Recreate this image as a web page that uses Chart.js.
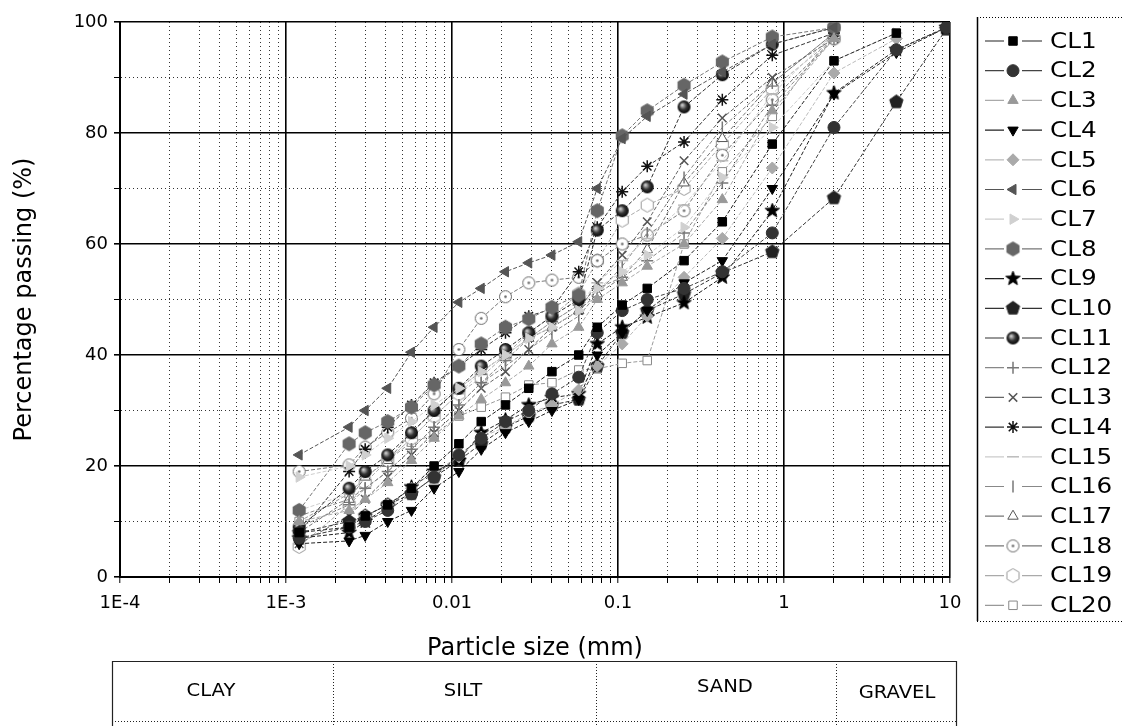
<!DOCTYPE html>
<html>
<head>
<meta charset="utf-8">
<script src="https://cdn.jsdelivr.net/npm/chart.js@4"></script>
<style>
  html, body { margin: 0; padding: 0; background: #fff; }
  #wrap { width: 1123px; height: 726px; position: relative; }
</style>
</head>
<body>
<div id="wrap"><canvas id="psd" width="1123" height="726"></canvas></div>
<script>
// ---------------------------------------------------------------
// data (percentage passing vs size)
// ---------------------------------------------------------------
var hydroSizes = [0.0012, 0.0024, 0.003, 0.0041, 0.0057, 0.0078, 0.011, 0.015, 0.021, 0.029, 0.04, 0.058];
var sieveSizes = [0.075, 0.106, 0.15, 0.25, 0.425, 0.85, 2, 4.75, 9.5];

var seriesNames = ['CL1','CL2','CL3','CL4','CL5','CL6','CL7','CL8','CL9','CL10',
                   'CL11','CL12','CL13','CL14','CL15','CL16','CL17','CL18','CL19','CL20'];

var cl1  = [8, 9, 11, 13, 16, 20, 24, 28, 31, 34, 37, 40, 45, 49, 52, 57, 64, 78, 93, 98, null];
var cl2  = [7, 9, 10, 12, 15, 18, 22, 25, 28, 30, 33, 36, 44, 48, 50, 52, 55, 62, 81, 95, 99];
var cl3  = [10, 12, 14, 17, 21, 25, 29, 32, 35, 38, 42, 45, 50, 53, 56, 60, 68, 84, 97, null, null];
var cl4  = [6, 6.5, 7.5, 10, 12, 16, 19, 23, 26, 28, 30, 32, 40, 44, 48, 53, 57, 70, 87, 94.5, 99];
var cl5  = [7, 9, 11, 13, 16, 19, 21.6, 25.2, 27, 29.5, 31, 33.7, 38, 42, 47, 54, 61, 73.7, 90.8, 97, null];
var cl6  = [22, 27, 30, 34, 40.5, 45, 49.5, 52, 55, 56.6, 58, 60.4, 70, 79, 83, 87, 91, 96, 99, null, null];
var cl7  = [18, 20, 22, 25, 28, 31, 34, 37, 40, 43, 45, 48, 52, 55, 58, 63, 72, 81, 93, 98, null];
var cl8  = [12, 24, 26, 28, 30.6, 34.6, 38, 42, 45, 46.5, 48.6, 50.8, 66, 79.5, 84, 88.6, 92.8, 97.3, 99, null, null];
var cl9  = [7, 8, 10, 12.6, 16.2, 19, 21, 26, 28.3, 31, 32.3, 33, 42, 45, 46.8, 49.4, 54, 66, 87.2, 95, 99];
var cl10 = [8, 10, 11, 13, 15, 18, 21, 24, 27, 29, 31, 32, 38, 44, 48, 51, 54.8, 58.6, 68.3, 85.6, 98.7];
var cl11 = [9, 16, 19, 22, 26, 30, 34, 38, 41, 44, 47, 50, 62.5, 66, 70.3, 84.7, 90.5, 96, 99, null, null];
var cl12 = [9, 13, 16, 19, 23, 27, 31, 35, 39, 43, 46, 49, 52, 54, 57, 62, 71, 85, 97, null, null];
var cl13 = [6, 11, 14, 18, 22, 26, 30, 34, 37, 41, 45, 48, 53, 58, 64, 75, 82.7, 90, 97, null, null];
var cl14 = [8, 19, 23, 27, 31, 35, 38, 41, 44, 47, 48.3, 55, 63, 69.4, 74, 78.4, 86, 94, 98, null, null];
var cl15 = [12, 15, 18, 21, 25, 29, 33, 37, 40, 43, 46, 49, 53, 57, 61, 67, 75, 87, 98, null, null];
var cl16 = [11, 14, 16, 19, 23, 27, 31, 35, 38, 41, 44, 47, 51, 56, 62, 72, 81, 89, 98, null, null];
var cl17 = [8, 14, 18, 21, 26, 30, 34, 37, 40, 43, 45, 48, 51, 54, 59, 71, 79, 89, 98, null, null];
var cl18 = [19, 20.2, 23.4, 26, 28.6, 33, 41, 46.6, 50.5, 53, 53.5, 54, 57, 60, 61.6, 66, 76, 86, 97, null, null];
var cl19 = [5.5, 13, 17, 21, 25, 29, 33, 36, 40, 44, 47, 51, 57, 64.3, 67, 70, 78, 88, 97, null, null];
var cl20 = [10, 15, 18, 21, 24.3, 25.6, 29, 30.6, 32.4, 34.6, 35, 37.3, 37.5, 38.5, 39, 60, 73, 83, 98.5, null, null];

var seriesValues = [cl1, cl2, cl3, cl4, cl5, cl6, cl7, cl8, cl9, cl10,
                    cl11, cl12, cl13, cl14, cl15, cl16, cl17, cl18, cl19, cl20];

var xTickValues = [1e-4, 1e-3, 0.01, 0.1, 1, 10];
var xTickLabels = ['1E-4', '1E-3', '0.01', '0.1', '1', '10'];
var yTickLabels = [0, 20, 40, 60, 80, 100];
var zoneNames = ['CLAY', 'SILT', 'SAND', 'GRAVEL'];

// ---------------------------------------------------------------
// marker styles (grey scale, like the original figure)
// ---------------------------------------------------------------
function makeMarker(kind, fill, stroke) {
    var s = 17, c = document.createElement('canvas');
    c.width = s; c.height = s;
    var g = c.getContext('2d');
    var cx = s / 2, cy = s / 2, r = 7, i, a, rr;
    g.fillStyle = fill;
    g.strokeStyle = stroke;
    g.lineWidth = 1;
    g.beginPath();
    if (kind === 'hex' || kind === 'pent') {
        var n = kind === 'hex' ? 6 : 5;
        for (i = 0; i < n; i++) {
            a = -Math.PI / 2 + i * 2 * Math.PI / n;
            g.lineTo(cx + r * Math.cos(a), cy + r * Math.sin(a));
        }
        g.closePath(); g.fill(); g.stroke();
    } else if (kind === 'star5') {
        for (i = 0; i < 10; i++) {
            rr = i % 2 ? r * 0.45 : r + 0.5;
            a = -Math.PI / 2 + i * Math.PI / 5;
            g.lineTo(cx + rr * Math.cos(a), cy + rr * Math.sin(a));
        }
        g.closePath(); g.fill(); g.stroke();
    } else if (kind === 'sphere') {
        var grad = g.createRadialGradient(cx - 2, cy - 2, 0.5, cx, cy, r);
        grad.addColorStop(0, '#d0d0d0');
        grad.addColorStop(0.5, '#333');
        grad.addColorStop(1, '#000');
        g.fillStyle = grad;
        g.arc(cx, cy, r - 0.5, 0, Math.PI * 2);
        g.fill();
    } else if (kind === 'ring') {
        g.arc(cx, cy, r - 1, 0, Math.PI * 2);
        g.fill(); g.stroke();
        g.beginPath();
        g.fillStyle = stroke;
        g.arc(cx, cy, 1.3, 0, Math.PI * 2);
        g.fill();
    }
    return c;
}

var markerStyles = [
    { style: 'rect',      rot: 0,   fill: '#000',  stroke: '#000',  line: '#222' },
    { style: 'circle',    rot: 0,   fill: '#333',  stroke: '#333',  line: '#444' },
    { style: 'triangle',  rot: 0,   fill: '#999',  stroke: '#999',  line: '#aaa' },
    { style: 'triangle',  rot: 180, fill: '#000',  stroke: '#000',  line: '#222' },
    { style: 'rectRot',   rot: 0,   fill: '#aaa',  stroke: '#aaa',  line: '#bbb' },
    { style: 'triangle',  rot: 270, fill: '#555',  stroke: '#555',  line: '#555' },
    { style: 'triangle',  rot: 90,  fill: '#d0d0d0', stroke: '#d0d0d0', line: '#ccc' },
    { style: makeMarker('hex', '#666', '#666'),   rot: 0, fill: '#666', stroke: '#666', line: '#777' },
    { style: makeMarker('star5', '#000', '#000'), rot: 0, fill: '#000', stroke: '#000', line: '#222' },
    { style: makeMarker('pent', '#222', '#222'),  rot: 0, fill: '#222', stroke: '#222', line: '#333' },
    { style: makeMarker('sphere', '#000', '#000'), rot: 0, fill: '#000', stroke: '#000', line: '#333' },
    { style: 'cross',     rot: 0,   fill: '#777',  stroke: '#777',  line: '#888' },
    { style: 'crossRot',  rot: 0,   fill: '#555',  stroke: '#555',  line: '#666' },
    { style: 'star',      rot: 0,   fill: '#111',  stroke: '#111',  line: '#333' },
    { style: 'line',      rot: 0,   fill: '#bbb',  stroke: '#bbb',  line: '#ccc' },
    { style: 'line',      rot: 90,  fill: '#777',  stroke: '#777',  line: '#888' },
    { style: 'triangle',  rot: 0,   fill: '#fff',  stroke: '#555',  line: '#777' },
    { style: makeMarker('ring', '#fff', '#666'),  rot: 0, fill: '#fff', stroke: '#666', line: '#777' },
    { style: makeMarker('hex', '#fff', '#999'),   rot: 0, fill: '#fff', stroke: '#999', line: '#aaa' },
    { style: 'rect',      rot: 0,   fill: '#fff',  stroke: '#888',  line: '#999' }
];

var allSizes = hydroSizes.concat(sieveSizes);

var datasets = seriesNames.map(function (name, i) {
    var pts = [];
    seriesValues[i].forEach(function (v, k) {
        if (v !== null) pts.push({ x: allSizes[k], y: v });
    });
    var m = markerStyles[i];
    return {
        label: name,
        data: pts,
        showLine: true,
        fill: false,
        tension: 0,
        borderColor: m.line,
        borderWidth: 1,
        borderDash: [4, 2],
        pointStyle: m.style,
        pointRotation: m.rot,
        pointRadius: 6,
        pointBackgroundColor: m.fill,
        pointBorderColor: m.stroke,
        pointBorderWidth: (typeof m.style === 'string' && /cross|star|line/.test(m.style)) ? 1.5 : 1
    };
});

// ---------------------------------------------------------------
// helpers
// ---------------------------------------------------------------
function isDecade(v) {
    var l = Math.log10(v);
    return Math.abs(l - Math.round(l)) < 1e-6;
}

var textFamily = '"DejaVu Sans", "Liberation Sans", Arial, sans-serif';

// text a little stretched sideways, like the scanned figure
function wideText(ctx, txt, x, y, size, stretch) {
    ctx.save();
    ctx.translate(x, y);
    ctx.scale(stretch, 1);
    ctx.font = size + 'px ' + textFamily;
    ctx.fillText(txt, 0, 0);
    ctx.restore();
}

// legend box on the right with line-marker-line samples
var legendBox = {
    id: 'legendBox',
    afterDraw: function (chart) {
        var ctx = chart.ctx;
        ctx.save();
        ctx.strokeStyle = '#000';
        ctx.lineWidth = 1.5;
        ctx.beginPath();
        ctx.moveTo(977.5, 17); ctx.lineTo(977.5, 621);
        ctx.stroke();
        ctx.setLineDash([1, 2]);
        ctx.lineWidth = 1;
        ctx.beginPath();
        ctx.moveTo(977, 17.5); ctx.lineTo(1123, 17.5);
        ctx.moveTo(977, 621.5); ctx.lineTo(1123, 621.5);
        ctx.stroke();
        ctx.setLineDash([]);

        chart.data.datasets.forEach(function (ds, i) {
            var y = 41 + i * 29.7;
            var m = markerStyles[i];
            ctx.strokeStyle = m.line;
            ctx.lineWidth = 1.2;
            ctx.beginPath();
            ctx.moveTo(985, y); ctx.lineTo(1004, y);
            ctx.moveTo(1022, y); ctx.lineTo(1042, y);
            ctx.stroke();
            ctx.fillStyle = m.fill;
            ctx.strokeStyle = m.stroke;
            ctx.lineWidth = ds.pointBorderWidth;
            if (Chart.helpers && Chart.helpers.drawPoint) {
                Chart.helpers.drawPoint(ctx, { pointStyle: m.style, rotation: m.rot, radius: 6, borderWidth: ds.pointBorderWidth }, 1013, y);
            }
            ctx.fillStyle = '#000';
            ctx.textAlign = 'left';
            ctx.textBaseline = 'middle';
            wideText(ctx, ds.label, 1050, y + 1, 22, 1.12);
        });
        ctx.restore();
    }
};

// soil classification strip under the axis
var zoneStrip = {
    id: 'zoneStrip',
    afterDraw: function (chart) {
        var ctx = chart.ctx;
        var xs = [112, 333, 596, 836, 957];
        var textX = [211, 463, 725, 897];
        var textY = [692, 692, 688, 694];
        ctx.save();
        ctx.strokeStyle = '#222';
        ctx.lineWidth = 1.2;
        ctx.beginPath();
        ctx.moveTo(112, 661.5); ctx.lineTo(957, 661.5);
        ctx.moveTo(112.5, 661); ctx.lineTo(112.5, 726);
        ctx.moveTo(956.5, 661); ctx.lineTo(956.5, 726);
        ctx.stroke();
        ctx.setLineDash([1, 2]);
        ctx.lineWidth = 1;
        ctx.beginPath();
        for (var k = 1; k < 4; k++) {
            ctx.moveTo(xs[k] + 0.5, 661); ctx.lineTo(xs[k] + 0.5, 726);
        }
        ctx.moveTo(112, 721.5); ctx.lineTo(957, 721.5);
        ctx.stroke();
        ctx.setLineDash([]);
        ctx.fillStyle = '#000';
        ctx.textAlign = 'center';
        ctx.textBaseline = 'middle';
        zoneNames.forEach(function (z, i) { wideText(ctx, z, textX[i], textY[i], 17, 1.15); });
        ctx.restore();
    }
};

var tickFont = { family: textFamily, size: 18 };
var titleFont = { family: textFamily, size: 24 };

var ctx = document.getElementById('psd').getContext('2d');
var chart = new Chart(ctx, {
    type: 'line',
    data: { datasets: datasets },
    plugins: [legendBox, zoneStrip],
    options: {
        responsive: false,
        animation: false,
        events: [],
        layout: { padding: { left: 0, top: 22, right: 173, bottom: 61 } },
        plugins: {
            legend: { display: false },
            tooltip: { enabled: false }
        },
        scales: {
            x: {
                type: 'logarithmic',
                min: 1e-4,
                max: 10,
                afterBuildTicks: function (scale) {
                    var t = [];
                    for (var e = -4; e <= 0; e++) {
                        for (var k = 1; k <= 9; k++) t.push({ value: k * Math.pow(10, e) });
                    }
                    t.push({ value: 10 });
                    scale.ticks = t;
                },
                afterFit: function (scale) { scale.height = 88; },
                ticks: {
                    autoSkip: false,
                    maxRotation: 0,
                    padding: 10,
                    color: '#000',
                    font: tickFont,
                    callback: function (v) {
                        var idx = xTickValues.findIndex(function (d) { return Math.abs(d - v) / d < 1e-6; });
                        return idx >= 0 ? xTickLabels[idx] : '';
                    }
                },
                grid: {
                    color: function (c) { return c.tick && isDecade(c.tick.value) ? '#000' : '#333'; },
                    lineWidth: function (c) { return c.tick && isDecade(c.tick.value) ? 1.6 : 1; },
                    tickLength: 6,
                    tickColor: '#000',
                    tickWidth: 1
                },
                border: {
                    color: '#000',
                    width: 2,
                    dash: function (c) { return (c.tick && !isDecade(c.tick.value)) ? [1, 3] : []; }
                },
                title: {
                    display: true,
                    text: 'Particle size (mm)',
                    color: '#000',
                    font: titleFont,
                    padding: { top: 0, bottom: 2 }
                }
            },
            y: {
                min: 0,
                max: 100,
                afterFit: function (scale) { scale.width = 120; },
                ticks: {
                    stepSize: 10,
                    padding: 6,
                    color: '#000',
                    font: tickFont,
                    callback: function (v) { return yTickLabels.indexOf(v) >= 0 ? String(v) : ''; }
                },
                grid: {
                    color: function (c) { return c.tick && c.tick.value % 20 === 0 ? '#000' : '#333'; },
                    lineWidth: function (c) { return c.tick && c.tick.value % 20 === 0 ? 1.6 : 1; },
                    tickLength: 6,
                    tickColor: '#000'
                },
                border: {
                    color: '#000',
                    width: 2,
                    dash: function (c) { return (c.tick && c.tick.value % 20 !== 0) ? [1, 3] : []; }
                },
                title: {
                    display: true,
                    text: 'Percentage passing (%)',
                    color: '#000',
                    font: titleFont,
                    padding: { top: 10, bottom: 0 }
                }
            }
        }
    }
});
</script>
</body>
</html>
